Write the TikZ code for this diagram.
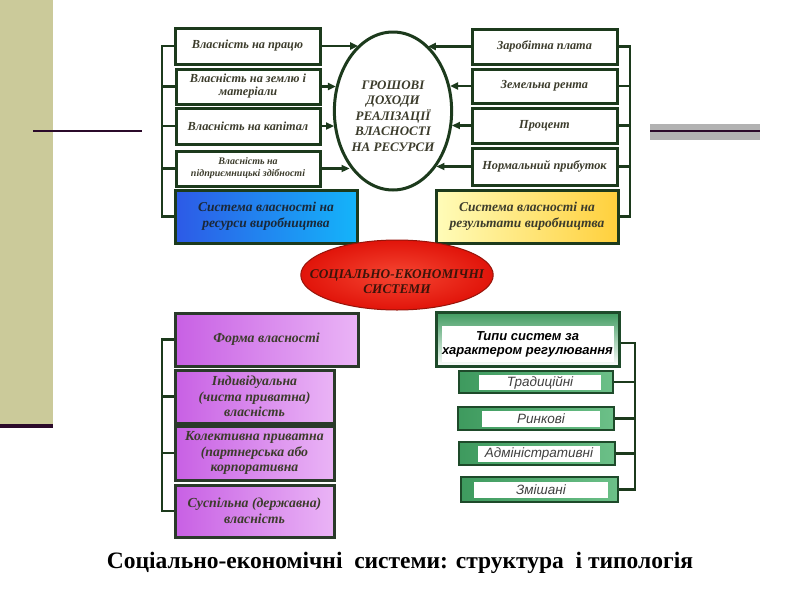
\documentclass[tikz,border=0pt]{standalone}
\usepackage{fontspec}
\setmainfont{Liberation Serif}
\setsansfont{Liberation Sans}
\usetikzlibrary{arrows.meta,shapes.geometric}
\definecolor{band}{HTML}{CBCA9A}
\definecolor{plum}{HTML}{2B0A2A}
\definecolor{dgreen}{HTML}{1C3A1C}
\definecolor{txt}{HTML}{3C3C2C}
\definecolor{bluetxt}{HTML}{1A2838}
\definecolor{gbord}{HTML}{1E4A2A}
\definecolor{gmid}{HTML}{3E9A5E}
\definecolor{glight}{HTML}{6CC088}
\definecolor{pdark}{HTML}{C860E4}
\definecolor{plight}{HTML}{EAB4F6}
\definecolor{pbord}{HTML}{2A3A2A}
\begin{document}
\begin{tikzpicture}[x=1pt,y=-1pt,
  wbox/.style={draw=dgreen,line width=3pt,fill=white,inner sep=1pt,align=center,
     text=txt,font=\fontsize{12.3}{13}\selectfont\bfseries\itshape},
  colbox/.style={draw=dgreen,line width=3pt,inner sep=1pt,align=center,
     minimum width=182pt,minimum height=53pt,font=\fontsize{13.5}{16}\selectfont\bfseries\itshape},
  pbox/.style={draw=pbord,line width=3pt,inner sep=1pt,align=center,
     left color=pdark,right color=plight,text=txt,
     font=\fontsize{13.8}{15.5}\selectfont\bfseries\itshape},
  gbox/.style={draw=gbord,line width=2.5pt,left color=gmid,right color=glight},
  ginner/.style={fill=white,inner sep=0pt,text=black!75,font=\sffamily\itshape\fontsize{13.5}{14}\selectfont},
  link/.style={dgreen,line width=2.6pt},
  arr/.style={dgreen,line width=2.2pt,-{Triangle[length=8pt,width=7pt]}}
]
\useasboundingbox (0,0) rectangle (800,600);
% decoration
\fill[band] (0,0) rectangle (53,427);
\fill[plum] (0,424) rectangle (53,428);
\draw[plum,line width=2pt] (33,131) -- (142,131);
\fill[black!30] (650,124) rectangle (760,140);
\draw[plum,line width=2pt] (650,131) -- (760,131);

% central ellipse
\node[ellipse,draw=dgreen,line width=3pt,fill=white,minimum width=117pt,minimum height=158pt,
  inner sep=0pt,text=txt,font=\fontsize{13}{15.5}\selectfont\bfseries\itshape]
  (E) at (393,111) {\raisebox{-6pt}[\height][\depth]{\begin{tabular}{@{}c@{}}ГРОШОВІ\\ДОХОДИ\\РЕАЛІЗАЦІЇ\\ВЛАСНОСТІ\\НА РЕСУРСИ\end{tabular}}};

% left top boxes
\node[wbox,minimum width=145pt,minimum height=36pt] (L1) at (247.5,46) {Власність на працю};
\node[wbox,minimum width=144pt,minimum height=35pt] (L2) at (248,86.5) {Власність на землю і\\матеріали};
\node[wbox,minimum width=144pt,minimum height=36pt] (L3) at (248,126) {Власність на капітал};
\node[wbox,minimum width=144pt,minimum height=35pt,font=\fontsize{10}{12}\selectfont\bfseries\itshape] (L4) at (248,168.5) {Власність на\\підприємницькі здібності};
\node[colbox,left color={rgb,255:red,45;green,90;blue,230},middle color={rgb,255:red,10;green,195;blue,248},
  right color={rgb,255:red,20;green,180;blue,250},text=bluetxt] (B) at (266,216.5) {Система власності на\\ресурси виробництва};

% right top boxes
\node[wbox,minimum width=145pt,minimum height=35pt] (R1) at (544.5,46.5) {Заробітна плата};
\node[wbox,minimum width=145pt,minimum height=34pt] (R2) at (544.5,86) {Земельна рента};
\node[wbox,minimum width=145pt,minimum height=35pt] (R3) at (544.5,125.5) {Процент};
\node[wbox,minimum width=145pt,minimum height=37pt] (R4) at (544.5,166.5) {Нормальний прибуток};
\node[colbox,left color={rgb,255:red,255;green,252;blue,185},right color={rgb,255:red,255;green,208;blue,60},
  text=txt] (Y) at (527,216.5) {Система власності на\\результати виробництва};

% brackets top
\coordinate (lt) at (162,46);
\coordinate (lb) at (162,216.5);
\draw[link] (L1.west) -- (lt) -- (lb) -- (B.west);
\foreach \n in {L2,L3,L4} \draw[link] (\n.west) -- (\n.west -| lt);
\coordinate (rt) at (630,46.5);
\coordinate (rb) at (630,216.5);
\draw[link] (R1.east) -- (rt) -- (rb) -- (Y.east);
\foreach \n in {R2,R3,R4} \draw[link] (\n.east) -- (\n.east -| rt);

% arrows into ellipse
\draw[arr] (L1.east) -- (L1.east -| E.118);
\draw[arr] (L2.east) -- (L2.east -| E.156);
\draw[arr] (L3.east) -- (L3.east -| E.195);
\draw[arr] (L4.east) -- (L4.east -| E.232);
\draw[arr] (R1.west) -- (R1.west -| E.62);
\draw[arr] (R2.west) -- (R2.west -| E.24);
\draw[arr] (R3.west) -- (R3.west -| E.345);
\draw[arr] (R4.west) -- (R4.west -| E.308);

% red ellipse
\node[ellipse,draw={rgb,255:red,150;green,20;blue,10},line width=1pt,minimum width=192pt,minimum height=70pt,
  inner xsep=-19pt,inner ysep=0pt,inner color={rgb,255:red,245;green,70;blue,50},outer color={rgb,255:red,225;green,20;blue,10},
  text={rgb,255:red,60;green,20;blue,10},font=\fontsize{13.3}{14.5}\selectfont\bfseries\itshape]
  (S) at (397,275) {\raisebox{-8pt}[\height][\depth]{\begin{tabular}{@{}c@{}}СОЦІАЛЬНО-ЕКОНОМІЧНІ\\СИСТЕМИ\end{tabular}}};

% purple boxes
\node[pbox,minimum width=183pt,minimum height=53pt] (P1) at (266.5,339.5) {Форма власності};
\node[pbox,minimum width=159pt,minimum height=53pt] (P2) at (254.5,396.5) {Індивідуальна\\(чиста приватна)\\власність};
\node[pbox,minimum width=159pt,minimum height=54pt] (P3) at (254.5,453) {Колективна приватна\\(партнерська або\\корпоративна};
\node[pbox,minimum width=159pt,minimum height=52pt] (P4) at (254.5,511) {Суспільна (державна)\\власність};
\coordinate (pt) at (162,339.5);
\coordinate (pb) at (162,511);
\draw[link] (P1.west) -- (pt) -- (pb) -- (P4.west);
\foreach \n in {P2,P3} \draw[link] (\n.west) -- (\n.west -| pt);

% green boxes
\node[draw=gbord,line width=3pt,top color=gmid,bottom color=white,minimum width=183pt,minimum height=54pt] (T) at (527.5,339) {};
\node[fill=white,inner sep=0pt,minimum width=172pt,minimum height=36pt,align=center,
  font=\sffamily\bfseries\itshape\fontsize{13}{14}\selectfont,text=black] (Tt) at (527.5,344) {Типи систем за\\характером регулювання};
\node[gbox,minimum width=154pt,minimum height=22pt] (G1) at (536,382) {};
\node[ginner,minimum width=122pt,minimum height=15pt] (G1t) at (540,382.5) {Традиційні};
\node[gbox,minimum width=156pt,minimum height=23pt] (G2) at (536,418.5) {};
\node[ginner,minimum width=118pt,minimum height=16pt] (G2t) at (541,418.5) {Ринкові};
\node[gbox,minimum width=156pt,minimum height=23pt] (G3) at (537,453.5) {};
\node[ginner,minimum width=122pt,minimum height=16pt] (G3t) at (539,454) {Адміністративні};
\node[gbox,minimum width=157pt,minimum height=25pt] (G4) at (539.5,489.5) {};
\node[ginner,minimum width=134pt,minimum height=16pt] (G4t) at (541,490) {Змішані};
\coordinate (gt) at (635,343);
\coordinate (gb) at (635,489.5);
\draw[link,line width=2.4pt] (T.east |- gt) -- (gt) -- (gb) -- (G4.east);
\foreach \n in {G1,G2,G3} \draw[link,line width=2.4pt] (\n.east) -- (\n.east -| gt);

% caption
\node[font=\fontsize{23.5}{26}\selectfont\bfseries] (cap) at (400,563) {Соціально-економічні\ \ системи: структура\ \ і типологія};
\end{tikzpicture}
\end{document}
